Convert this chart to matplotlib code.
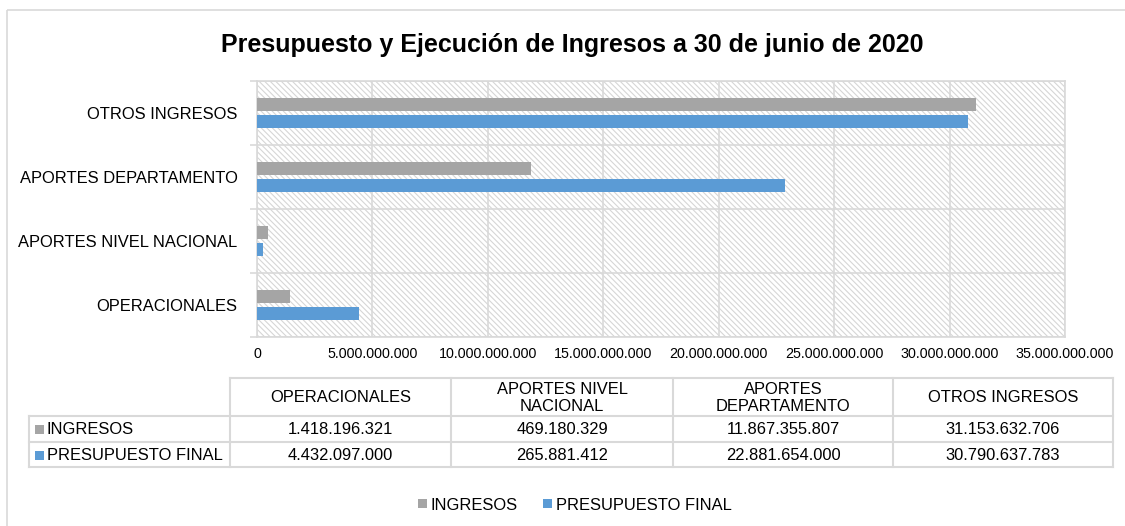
import matplotlib
matplotlib.use("Agg")
import matplotlib.pyplot as plt
from matplotlib.patches import Rectangle
import numpy as np

plt.rcParams['font.family'] = ['Liberation Sans', 'DejaVu Sans']
plt.rcParams['hatch.linewidth'] = 0.8

categories = ['OPERACIONALES', 'APORTES NIVEL NACIONAL', 'APORTES DEPARTAMENTO', 'OTROS INGRESOS']
table_headers = ['OPERACIONALES', 'APORTES NIVEL\nNACIONAL', 'APORTES\nDEPARTAMENTO', 'OTROS INGRESOS']
ingresos = [1418196321, 469180329, 11867355807, 31153632706]
presupuesto = [4432097000, 265881412, 22881654000, 30790637783]
series_names = ['INGRESOS', 'PRESUPUESTO FINAL']
x_ticks = [0, 5e9, 10e9, 15e9, 20e9, 25e9, 30e9, 35e9]

GRAY = '#a5a5a5'
BLUE = '#5b9bd5'
GRID = '#d9d9d9'

def fmt(v):
    return '{:,}'.format(int(v)).replace(',', '.')

W, H = 1125, 526
fig = plt.figure(figsize=(W/100, H/100), dpi=100)

# overlay in pixel coordinates for border, table and legend
ov = fig.add_axes([0, 0, 1, 1], zorder=0)
ov.set_xlim(0, W)
ov.set_ylim(H, 0)
ov.axis('off')
ov.add_patch(Rectangle((7, 10), W + 10, H, fill=False, edgecolor=GRID, lw=1.2))

# main bar chart
ax = fig.add_axes([257/W, 1-337/H, (1065-257)/W, (337-81)/H], zorder=1)
ax.patch.set_alpha(0)
hatch_bg = Rectangle((0, 0), 1, 1, transform=ax.transAxes, facecolor='white',
                     edgecolor='#d6d6d6', hatch='\\' * 6, lw=0, zorder=0)
ax.add_patch(hatch_bg)

y = np.arange(len(categories))
h = 0.2
ax.barh(y + 0.13, ingresos, height=h, color=GRAY, zorder=3)
ax.barh(y - 0.13, presupuesto, height=h, color=BLUE, zorder=3)

ax.set_xlim(0, 35e9)
ax.set_ylim(-0.5, len(categories) - 0.5)
ax.set_xticks(x_ticks)
ax.set_xticklabels([fmt(t) for t in x_ticks], fontsize=10.3)
ax.set_yticks(y)
ax.set_yticklabels(categories, fontsize=11.9)
ax.set_yticks(np.arange(-0.5, len(categories), 1), minor=True)
ax.tick_params(axis='y', which='major', length=0, pad=14)
ax.tick_params(axis='y', which='minor', length=5, color=GRID, width=1.2)
ax.tick_params(axis='x', length=0, pad=7)
ax.grid(axis='x', color=GRID, lw=1.2, zorder=1)
ax.grid(axis='y', which='minor', color=GRID, lw=1.2, zorder=1)
ax.set_axisbelow(True)
for s in ax.spines.values():
    s.set_color(GRID)
    s.set_linewidth(1.2)

fig.text(572/W, 1-45/H, 'Presupuesto y Ejecución de Ingresos a 30 de junio de 2020',
         ha='center', va='center', fontsize=18, fontweight='bold')

# data table under the chart
col_x = [29, 230, 451, 673, 893, 1113]
row_y = [378, 416, 442, 467]
lc = dict(color=GRID, lw=1.5)
ov.plot([col_x[1], col_x[-1]], [row_y[0], row_y[0]], **lc)
for ry in row_y[1:]:
    ov.plot([col_x[0], col_x[-1]], [ry, ry], **lc)
ov.plot([col_x[0], col_x[0]], [row_y[1], row_y[-1]], **lc)
for cx in col_x[1:]:
    ov.plot([cx, cx], [row_y[0], row_y[-1]], **lc)

for i, hd in enumerate(table_headers):
    ov.text((col_x[i+1] + col_x[i+2]) / 2, (row_y[0] + row_y[1]) / 2 + 1, hd,
            ha='center', va='center', fontsize=11.9, linespacing=1.2)

for r, (vals, name, col) in enumerate(zip([ingresos, presupuesto], series_names, [GRAY, BLUE])):
    cy = (row_y[r+1] + row_y[r+2]) / 2
    ov.add_patch(Rectangle((35, cy - 4), 9, 9, color=col, lw=0))
    ov.text(47, cy + 1, name, ha='left', va='center', fontsize=11.9)
    for i, v in enumerate(vals):
        ov.text((col_x[i+1] + col_x[i+2]) / 2, cy + 1, fmt(v),
                ha='center', va='center', fontsize=11.9)

# legend
leg_y = 504
for sx, tx, name, col in [(418, 431, series_names[0], GRAY), (543, 556, series_names[1], BLUE)]:
    ov.add_patch(Rectangle((sx, leg_y - 5), 9, 9, color=col, lw=0))
    ov.text(tx, leg_y + 1, name, ha='left', va='center', fontsize=11.9)

fig.savefig('out.png', dpi=100)
